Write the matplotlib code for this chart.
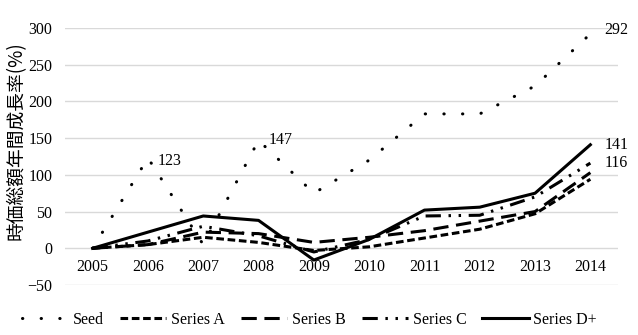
import matplotlib
matplotlib.use('Agg')
import matplotlib.pyplot as plt

years = ['2005', '2006', '2007', '2008', '2009', '2010', '2011', '2012', '2013', '2014']
seed = [0, 123, 5, 147, 75, 120, 183, 183, 221, 292]
series_a = [0, 5, 15, 8, -3, 2, 14, 26, 47, 94]
series_b = [0, 5, 22, 20, 8, 15, 24, 37, 50, 103]
series_c = [0, 10, 30, 17, -5, 12, 44, 45, 70, 116]
series_d = [0, 22, 44, 38, -16, 12, 52, 56, 75, 141]
ylabel = '時価総額年間成長率(%)'

plt.rcParams['font.family'] = ['Liberation Serif', 'Noto Sans CJK JP']
fs = 11.5

fig = plt.figure(figsize=(6.38, 3.35), dpi=100)
ax = fig.add_axes([65 / 638, 1 - 285 / 335, 553 / 638, 257 / 335])

x = list(range(len(years)))
ax.plot(x, seed, color='black', lw=2.2, linestyle=(0, (0.1, 6.0)),
        dash_capstyle='round', label='Seed')
ax.plot(x, series_a, color='black', lw=2.2, linestyle=(0, (2.5, 1.2)), label='Series A')
ax.plot(x, series_b, color='black', lw=2.2, linestyle=(0, (5, 2.5)), label='Series B')
ax.plot(x, series_c, color='black', lw=2.2, linestyle=(0, (5, 2.5, 0.8, 2.5, 0.8, 2.5)),
        label='Series C')
ax.plot(x, series_d, color='black', lw=2.2, label='Series D+')

# data labels
ax.annotate(str(seed[1]), (1, seed[1]), xytext=(7, -2), textcoords='offset points',
            fontsize=fs, va='center')
ax.annotate(str(seed[3]), (3, seed[3]), xytext=(7, 0), textcoords='offset points',
            fontsize=fs, va='center')
ax.annotate(str(seed[9]), (9, seed[9]), xytext=(10, 3), textcoords='offset points',
            fontsize=fs, va='center')
ax.annotate(str(series_d[9]), (9, series_d[9]), xytext=(10, 0), textcoords='offset points',
            fontsize=fs, va='center')
ax.annotate(str(series_c[9]), (9, series_c[9]), xytext=(10, 0), textcoords='offset points',
            fontsize=fs, va='center')

ax.set_xlim(-0.5, len(years) - 0.5)
ax.set_ylim(-50, 300)
ax.set_yticks(range(-50, 301, 50))
ax.set_xticks(x)
ax.set_xticklabels(years)
ax.grid(axis='y', color='#d9d9d9', lw=1)
ax.set_axisbelow(True)
for s in ['top', 'right', 'left']:
    ax.spines[s].set_visible(False)
ax.spines['bottom'].set_position(('data', 0))
ax.spines['bottom'].set_visible(False)
ax.tick_params(length=0, labelsize=fs)
ax.tick_params(axis='x', pad=8)
ax.tick_params(axis='y', pad=9)
ax.set_ylabel(ylabel, fontsize=13.5, family=['Noto Sans CJK JP'])
ax.yaxis.set_label_coords(-0.069, 0.56)

fig.legend(loc='center', bbox_to_anchor=(0.485, 1 - 320 / 335), ncol=5, frameon=False,
           fontsize=fs, handlelength=2.9, columnspacing=1.0, handletextpad=0.3)

fig.savefig('out.png', dpi=100)
